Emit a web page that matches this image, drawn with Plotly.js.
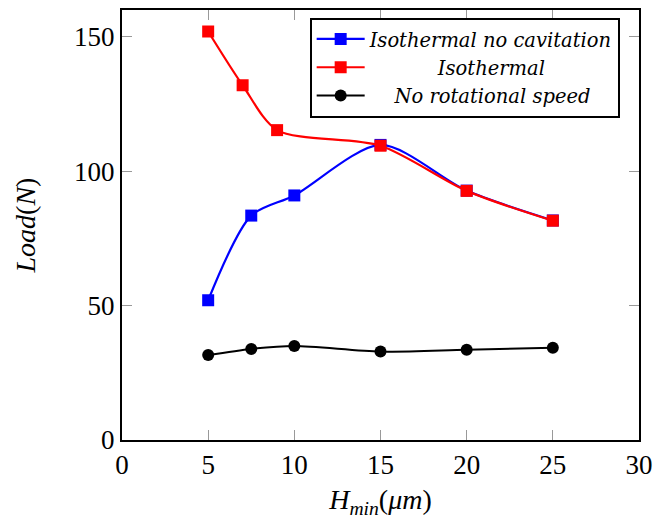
<!DOCTYPE html>
<html>
<head>
<meta charset="utf-8">
<script src="https://cdn.plot.ly/plotly-3.0.1.min.js"></script>
<style>html,body{margin:0;padding:0;background:#fff;}#chart{width:656px;height:524px;}</style>
</head>
<body>
<div id="chart"></div>
<script>
// Data
const blueX = [5, 7.5, 10, 15, 20, 25];
const blueY = [52, 83.5, 91, 109.8, 92.8, 81.7];
const redX = [5, 7, 9, 15, 20, 25];
const redY = [152, 132, 115.3, 109.5, 92.7, 81.6];
const blackX = [5, 7.5, 10, 15, 20, 25];
const blackY = [31.6, 33.9, 35, 32.9, 33.6, 34.3];
const seriesNames = ['Isothermal no cavitation', 'Isothermal', 'No rotational speed'];
const xTicks = [0, 5, 10, 15, 20, 25, 30];
const yTicks = [0, 50, 100, 150];

const FONT = '"Liberation Serif", "Times New Roman", serif';
const LFONT = '"DejaVu Serif", serif';
const pad = n => '\u00a0'.repeat(n);

const traces = [
  {x: blueX, y: blueY, name: seriesNames[0], mode: 'lines+markers',
   line: {color: '#0000ff', width: 2.2, shape: 'spline', smoothing: 0.8},
   marker: {symbol: 'square', size: 12, color: '#0000ff'}},
  {x: redX, y: redY, name: pad(11) + seriesNames[1], mode: 'lines+markers',
   line: {color: '#ff0000', width: 2.2, shape: 'spline', smoothing: 0.8},
   marker: {symbol: 'square', size: 12, color: '#ff0000'}},
  {x: blackX, y: blackY, name: pad(4) + seriesNames[2], mode: 'lines+markers',
   line: {color: '#000000', width: 2, shape: 'spline', smoothing: 0.8},
   marker: {symbol: 'circle', size: 12, color: '#000000'}}
];

const layout = {
  width: 656, height: 524,
  margin: {l: 122, r: 17, t: 10, b: 84},
  paper_bgcolor: '#fff', plot_bgcolor: '#fff',
  font: {family: FONT, size: 26, color: '#000'},
  showlegend: true,
  legend: {
    x: 0.363, y: 0.982, xanchor: 'left', yanchor: 'top',
    bgcolor: '#fff', bordercolor: '#000', borderwidth: 2,
    font: {family: LFONT, size: 19.5, style: 'italic', color: '#000'},
    tracegroupgap: 0, itemwidth: 48
  },
  xaxis: {
    range: [0, 30], tickvals: xTicks, ticktext: xTicks.map(String),
    ticks: 'inside', ticklen: 10, tickcolor: '#999', tickwidth: 1,
    showline: true, linecolor: '#000', linewidth: 2, mirror: 'ticks',
    showgrid: false, zeroline: false,
    tickfont: {family: FONT, size: 27, color: '#000'},
    title: {text: '<i>H</i><sub><i>min</i></sub>(<i>μm</i>)', font: {family: FONT, size: 28, color: '#000'}, standoff: 10}
  },
  yaxis: {
    range: [0, 160], tickvals: yTicks, ticktext: yTicks.map(String),
    ticks: 'inside', ticklen: 10, tickcolor: '#999', tickwidth: 1,
    showline: true, linecolor: '#000', linewidth: 2, mirror: 'ticks',
    showgrid: false, zeroline: false,
    tickfont: {family: FONT, size: 27, color: '#000'},
    title: {text: '<i>Load</i>(<i>N</i>)', font: {family: FONT, size: 28, color: '#000'}, standoff: 30}
  }
};

Plotly.newPlot('chart', traces, layout, {displayModeBar: false, staticPlot: true});
</script>
</body>
</html>
